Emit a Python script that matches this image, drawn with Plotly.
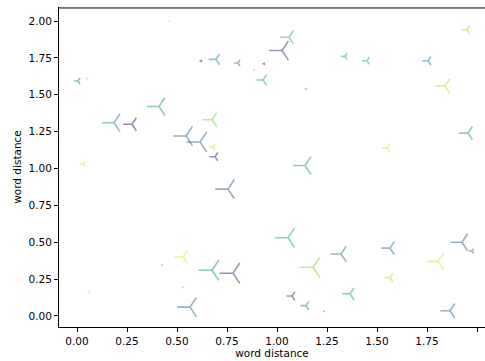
import plotly.graph_objects as go
from plotly.colors import sample_colorscale

x_vals = [0.005, 0.05, 0.185, 0.275, 0.41, 0.46, 0.545, 0.615, 0.675, 0.68,
          0.69, 0.62, 0.695, 0.805, 0.885, 0.935, 0.93, 1.025, 1.06, 1.145,
          1.34, 1.45, 1.755, 1.95, 1.84, 1.955, 1.55, 1.14, 0.03, 0.755,
          0.425, 0.53, 0.675, 0.78, 0.53, 0.06, 0.565, 1.055, 1.18, 1.32,
          1.565, 1.805, 1.925, 1.975, 1.565, 1.365, 1.075, 1.145, 1.235, 1.865]
y_vals = [1.593, 1.61, 1.31, 1.30, 1.42, 2.0, 1.22, 1.18, 1.33, 1.145,
          1.08, 1.73, 1.74, 1.715, 1.67, 1.71, 1.60, 1.80, 1.89, 1.54,
          1.76, 1.73, 1.73, 1.94, 1.56, 1.24, 1.14, 1.02, 1.03, 0.86,
          0.345, 0.40, 0.31, 0.29, 0.195, 0.16, 0.06, 0.53, 0.33, 0.42,
          0.46, 0.37, 0.50, 0.44, 0.26, 0.15, 0.135, 0.07, 0.03, 0.035]
sizes = [5, 2, 15, 11, 15, 1, 16, 17, 12, 5,
         7, 2, 9, 5, 1, 2, 9, 16, 11, 2,
         5, 6, 7, 7, 12, 11, 7, 15, 4, 16,
         1, 11, 17, 17, 2, 2, 16, 16, 17, 13,
         11, 14, 14, 4, 7, 10, 7, 7, 1, 12]
color_vals = [0.40, 0.95, 0.50, 0.05, 0.50, 0.95, 0.30, 0.30, 0.80, 0.95,
              0.10, 0.05, 0.45, 0.40, 0.75, 0.10, 0.60, 0.10, 0.65, 0.75,
              0.60, 0.60, 0.38, 0.90, 0.92, 0.50, 0.97, 0.55, 0.97, 0.28,
              0.50, 0.97, 0.50, 0.10, 0.88, 0.97, 0.33, 0.55, 0.80, 0.42,
              0.38, 0.95, 0.28, 0.30, 0.90, 0.52, 0.10, 0.38, 0.30, 0.33]
tick_vals = [0.0, 0.25, 0.5, 0.75, 1.0, 1.25, 1.5, 1.75, 2.0]
tick_text = ["0.00", "0.25", "0.50", "0.75", "1.00", "1.25", "1.50", "1.75", "2.00"]

colors = sample_colorscale("Viridis", color_vals)

fig = go.Figure(go.Scatter(
    x=x_vals, y=y_vals, mode="markers",
    marker=dict(symbol="y-left", size=sizes, color=colors, opacity=0.5,
                line=dict(width=1.6, color=colors)),
    hoverinfo="skip",
    cliponaxis=False,
))

axis_common = dict(
    showgrid=False, zeroline=False, showline=True, linecolor="black", linewidth=1,
    ticks="outside", ticklen=4, tickwidth=1, tickcolor="black",
    tickvals=tick_vals, ticktext=tick_text, automargin=False,
    tickfont=dict(family="DejaVu Sans", size=10.5, color="black"),
)
fig.update_layout(
    width=485, height=361,
    margin=dict(l=59, r=0, t=7, b=34),
    paper_bgcolor="white", plot_bgcolor="white",
    showlegend=False,
    xaxis=dict(range=[-0.09, 2.04], mirror=False,
               title=dict(text="word distance", standoff=2,
                          font=dict(family="DejaVu Sans", size=10.5, color="black")),
               **axis_common),
    yaxis=dict(range=[-0.075, 2.095], mirror=True,
               title=dict(text="word distance", standoff=4,
                          font=dict(family="DejaVu Sans", size=10.5, color="black")),
               **axis_common),
    shapes=[dict(type="line", xref="paper", yref="paper", x0=0, x1=1, y0=0.997, y1=0.997,
                 line=dict(color="black", width=1), layer="above")],
)
fig.write_html("out.html", config={"displayModeBar": False},
               post_script="document.body.style.margin='0';document.body.style.overflow='hidden';")
